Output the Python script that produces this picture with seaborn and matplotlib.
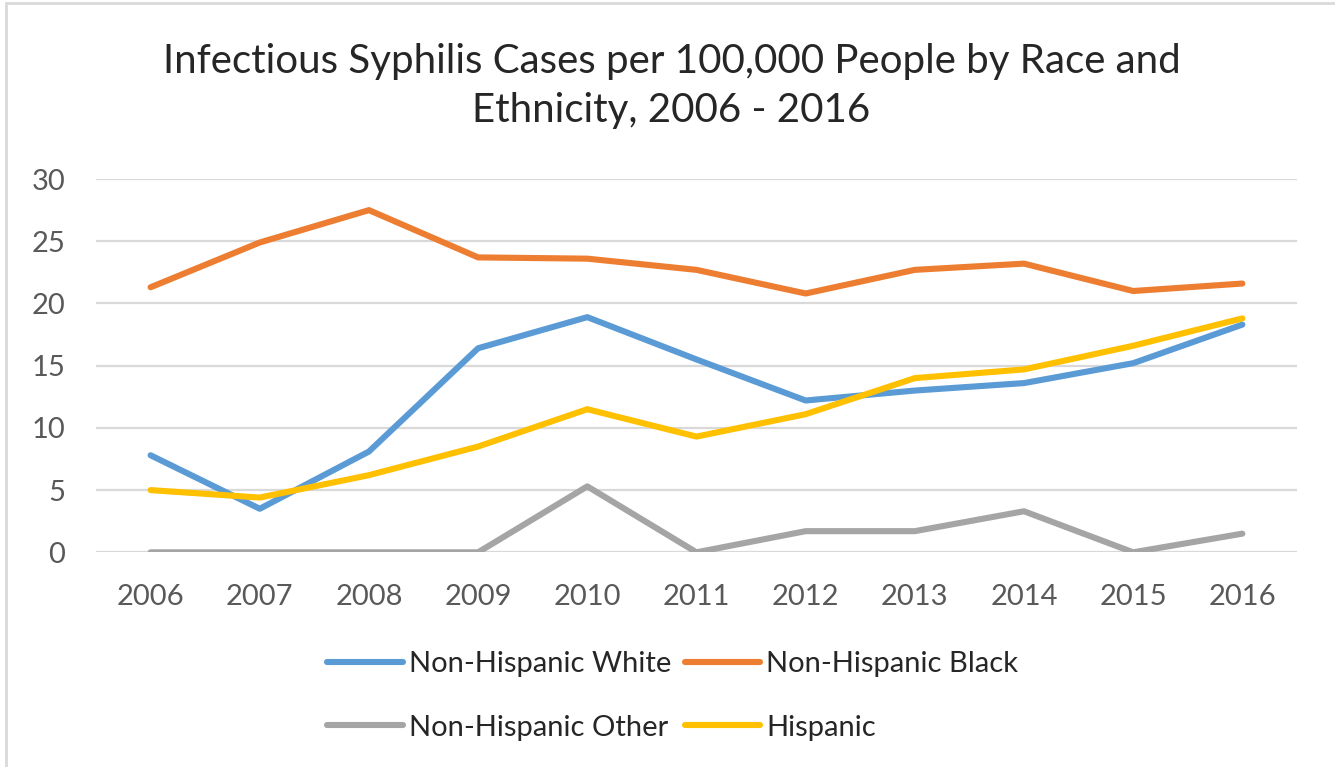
import matplotlib
matplotlib.use("Agg")
import matplotlib.pyplot as plt
import seaborn as sns
import pandas as pd
from matplotlib.lines import Line2D

# Data: infectious syphilis cases per 100,000 people
years = [2006, 2007, 2008, 2009, 2010, 2011, 2012, 2013, 2014, 2015, 2016]
nh_white = [7.8, 3.5, 8.1, 16.4, 18.9, 15.5, 12.2, 13.0, 13.6, 15.2, 18.3]
nh_black = [21.3, 24.9, 27.5, 23.7, 23.6, 22.7, 20.8, 22.7, 23.2, 21.0, 21.6]
nh_other = [0.0, 0.0, 0.0, 0.0, 5.3, 0.0, 1.7, 1.7, 3.3, 0.0, 1.5]
hispanic = [5.0, 4.4, 6.2, 8.5, 11.5, 9.3, 11.1, 14.0, 14.7, 16.6, 18.8]

series_names = ["Non-Hispanic White", "Non-Hispanic Black",
                "Non-Hispanic Other", "Hispanic"]
series_colors = ["#5B9BD5", "#ED7D31", "#A5A5A5", "#FFC000"]
y_ticks = [0, 5, 10, 15, 20, 25, 30]
title = "Infectious Syphilis Cases per 100,000 People by Race and\nEthnicity, 2006 - 2016"

frames = []
for name, vals in zip(series_names, [nh_white, nh_black, nh_other, hispanic]):
    frames.append(pd.DataFrame({"Year": years, "Rate": vals, "Group": name}))
df = pd.concat(frames, ignore_index=True)

sns.set_theme(style="white")
plt.rcParams["font.family"] = ["Lato", "DejaVu Sans"]

fig = plt.figure(figsize=(13.35, 7.67), dpi=100)
ax = fig.add_axes([0.0719, 0.2799, 0.8996, 0.4867])

sns.lineplot(data=df, x="Year", y="Rate", hue="Group", hue_order=series_names,
             palette=series_colors, linewidth=4.4, sort=False, ax=ax,
             legend=False, zorder=3)
for ln in ax.get_lines():
    ln.set_solid_capstyle("round")
    ln.set_solid_joinstyle("round")

ax.set_xlim(years[0] - 0.5, years[-1] + 0.5)
ax.set_ylim(0, 30)
ax.set_xticks(years)
ax.set_xticklabels([str(y) for y in years])
ax.set_yticks(y_ticks)
ax.set_yticklabels([str(t) for t in y_ticks])
ax.set_xlabel("")
ax.set_ylabel("")
ax.yaxis.grid(True, color="#D9D9D9", linewidth=1.6, zorder=0)
ax.xaxis.grid(False)
for s in ax.spines.values():
    s.set_visible(False)
ax.tick_params(axis="both", length=0, labelsize=21, labelcolor="#595959")
ax.tick_params(axis="y", pad=22)
ax.tick_params(axis="x", pad=23)

fig.text(0.503, 0.888, title, ha="center", va="center", fontsize=29,
         color="#262626", linespacing=1.4)

# legend laid out row by row: (White, Black) then (Other, Hispanic)
order = [0, 2, 1, 3]
handles = [Line2D([0], [0], color=series_colors[i], linewidth=4.4,
                  solid_capstyle="round") for i in order]
labels = [series_names[i] for i in order]
leg = fig.legend(handles, labels, ncol=2, loc="center",
                 bbox_to_anchor=(0.504, 0.093), frameon=False, fontsize=21,
                 handlelength=2.6, handletextpad=0.2, columnspacing=0.45,
                 labelspacing=1.3)
for t in leg.get_texts():
    t.set_color("#262626")

# chart border (top and left edges)
fig.add_artist(Line2D([0.0045, 0.0045], [0.0, 0.996], color="#D9D9D9",
                      linewidth=2, transform=fig.transFigure))
fig.add_artist(Line2D([0.0045, 1.0], [0.996, 0.996], color="#D9D9D9",
                      linewidth=2, transform=fig.transFigure))

fig.savefig("out.png", dpi=100)
